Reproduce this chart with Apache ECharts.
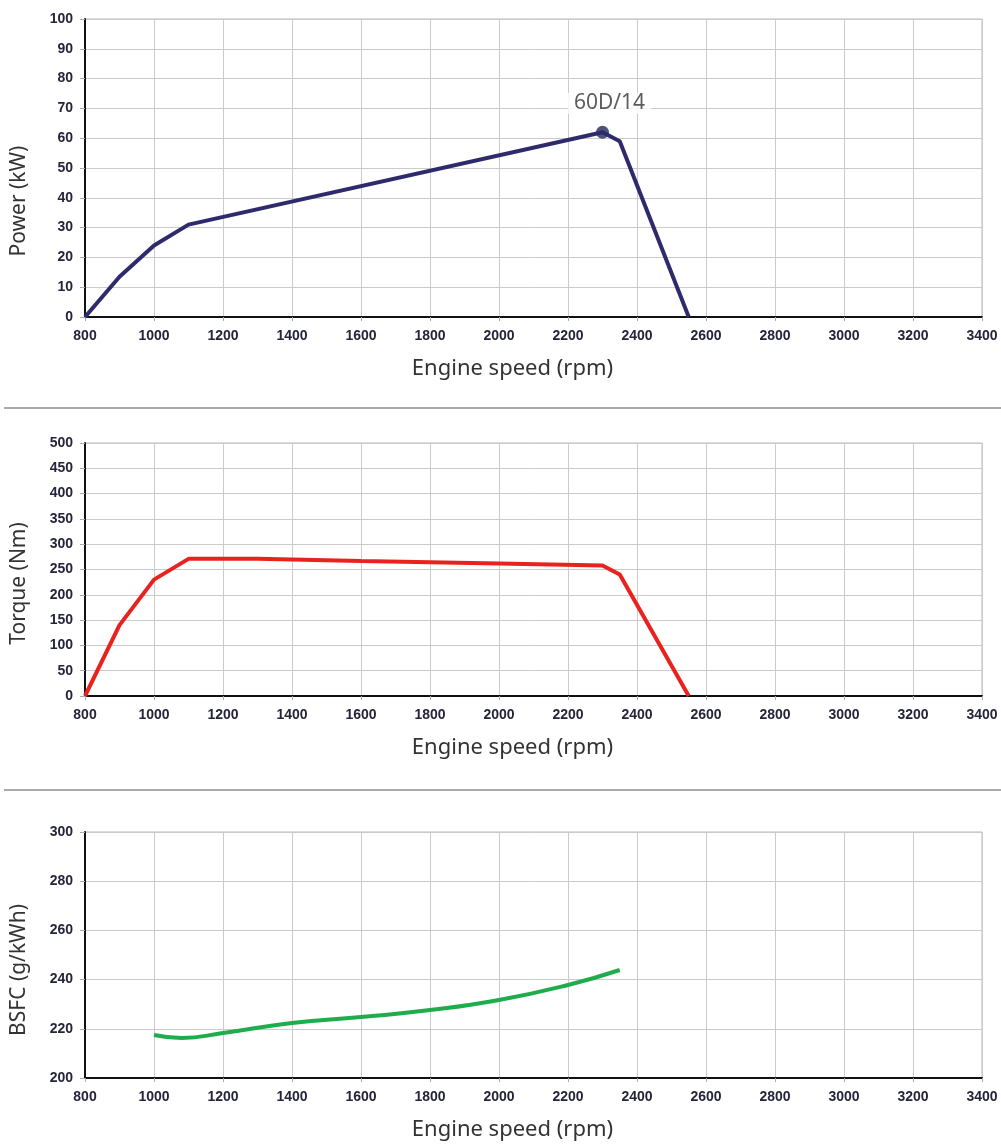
<!DOCTYPE html>
<html>
<head>
<meta charset="utf-8">
<script src="https://cdn.jsdelivr.net/npm/echarts@6/dist/echarts.min.js"></script>
<style>html,body{margin:0;padding:0;background:#fff}#c{width:1001px;height:1144px}</style>
</head>
<body>
<div id="c"></div>
<script>
// ---- data ----
const xTicks = [800,1000,1200,1400,1600,1800,2000,2200,2400,2600,2800,3000,3200,3400];
const powerRpm   = [800, 900, 1000, 1100, 2300, 2350, 2550];
const powerKW    = [0, 13.5, 24, 31, 62, 59, 0];
const ratedPoint = [2300, 62];
const ratedLabel = '60D/14';
const torqueRpm  = [800, 900, 1000, 1100, 1300, 1600, 2000, 2300, 2350, 2550];
const torqueNm   = [0, 140, 230, 271, 271, 267, 262, 258, 240, 0];
const bsfcRpm    = [1000, 1080, 1200, 1400, 1600, 1800, 2000, 2200, 2350];
const bsfcVal    = [217.5, 216.3, 218.3, 222.4, 224.8, 227.6, 231.7, 237.8, 243.9];

const pair = (xs, ys) => xs.map((x, i) => [x, ys[i]]);

const chart = echarts.init(document.getElementById('c'), null, {renderer: 'canvas'});

const tickFont = {fontFamily: 'Liberation Sans', fontWeight: 'bold', fontSize: 14, color: '#25253a'};
const titleFont = {fontFamily: 'Noto Sans', fontSize: 22, color: '#333', padding: [0, 42, 0, 0]};
const yNameFont = {fontFamily: 'Noto Sans', fontSize: 21, color: '#333'};

const grids = [
  {left: 85, right: 19, top: 19, height: 298},
  {left: 85, right: 19, top: 443, height: 253},
  {left: 85, right: 19, top: 832, height: 246}
];
grids.forEach(g => { g.show = true; g.borderColor = '#bbb'; g.borderWidth = 1; g.backgroundColor = '#fff'; });

function xAxis(i) {
  return {
    gridIndex: i, type: 'value', min: xTicks[0], max: xTicks[xTicks.length - 1], interval: xTicks[1] - xTicks[0],
    name: 'Engine speed (rpm)', nameLocation: 'middle', nameGap: 41, nameTextStyle: titleFont,
    axisLine: {show: true, lineStyle: {color: '#111', width: 2}},
    axisTick: {show: true, length: 4, lineStyle: {color: '#aaa'}},
    axisLabel: Object.assign({margin: 12, formatter: v => String(v)}, tickFont),
    splitLine: {show: true, lineStyle: {color: '#cbcbcb', width: 1}}
  };
}
function yAxis(i, name, min, max, interval, shift) {
  return {
    gridIndex: i, type: 'value', min: min, max: max, interval: interval,
    name: name, nameLocation: 'middle', nameGap: 55,
    nameTextStyle: Object.assign({padding: [0, shift * 2, 0, 0]}, yNameFont),
    axisLine: {show: true, onZero: false, lineStyle: {color: '#111', width: 2}},
    axisTick: {show: true, length: 5, lineStyle: {color: '#aaa'}},
    axisLabel: Object.assign({margin: 12, formatter: v => String(v)}, tickFont),
    splitLine: {show: true, lineStyle: {color: '#cbcbcb', width: 1}}
  };
}

chart.setOption({
  animation: false,
  backgroundColor: '#fff',
  grid: grids,
  xAxis: [xAxis(0), xAxis(1), xAxis(2)],
  yAxis: [
    yAxis(0, 'Power (kW)', 0, 100, 10, 33),
    yAxis(1, 'Torque (Nm)', 0, 500, 50, 14),
    yAxis(2, 'BSFC (g/kWh)', 200, 300, 20, 15)
  ],
  graphic: [
    {type: 'line', shape: {x1: 4, y1: 408, x2: 1001, y2: 408}, style: {stroke: '#aaa', lineWidth: 2}},
    {type: 'line', shape: {x1: 4, y1: 790, x2: 1001, y2: 790}, style: {stroke: '#aaa', lineWidth: 2}}
  ],
  series: [
    {
      type: 'line', xAxisIndex: 0, yAxisIndex: 0, data: pair(powerRpm, powerKW),
      showSymbol: false, lineStyle: {color: '#2d2b6c', width: 4}, itemStyle: {color: '#2d2b6c'}
    },
    {
      type: 'scatter', xAxisIndex: 0, yAxisIndex: 0, data: [ratedPoint], symbolSize: 13,
      itemStyle: {color: '#1f2a55'},
      label: {show: true, position: 'top', distance: 12, formatter: ratedLabel, offset: [7, 0],
        fontFamily: 'Noto Sans', fontSize: 21, color: '#333', backgroundColor: '#fff', padding: [0, 6]}
    },
    {
      type: 'line', xAxisIndex: 1, yAxisIndex: 1, data: pair(torqueRpm, torqueNm),
      showSymbol: false, lineStyle: {color: '#e8231f', width: 4}
    },
    {
      type: 'line', xAxisIndex: 2, yAxisIndex: 2, data: pair(bsfcRpm, bsfcVal),
      showSymbol: false, smooth: 0.5, lineStyle: {color: '#1fac4c', width: 4}
    }
  ]
});
</script>
</body>
</html>
